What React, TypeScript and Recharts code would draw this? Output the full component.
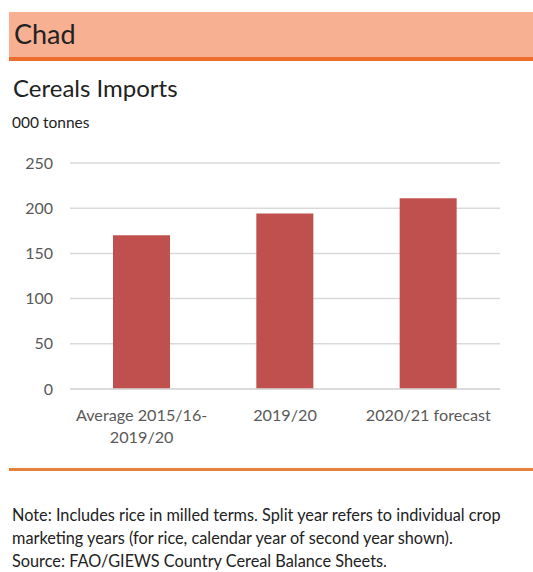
import { BarChart, Bar, XAxis, YAxis, CartesianGrid } from "recharts";

const categories = ["Average 2015/16-\n2019/20", "2019/20", "2020/21 forecast"];
const imports = [170, 194, 211];
const yTicks = [0, 50, 100, 150, 200, 250];

const data = categories.map((name, i) => ({ name, value: imports[i] }));

const FONT = "Lato, 'Open Sans', sans-serif";

function CategoryTick(props: any) {
  const { x, y, payload } = props;
  const lines = String(payload.value).split("\n");
  return (
    <text x={x} y={y} textAnchor="middle" fill="#595959" fontSize={16.2} fontFamily={FONT}>
      {lines.map((l, i) => (
        <tspan key={i} x={x} dy={i === 0 ? 24 : 22}>
          {l}
        </tspan>
      ))}
    </text>
  );
}

export default function App() {
  return (
    <div
      style={{
        position: "absolute",
        left: 0,
        top: 0,
        width: 533,
        height: 572,
        background: "#fff",
        fontFamily: FONT,
        overflow: "hidden",
      }}
    >
      <div
        style={{
          position: "absolute",
          left: 9,
          top: 12,
          width: 524,
          height: 45,
          background: "#F7B092",
          borderBottom: "4px solid #EE6D2C",
        }}
      />
      <div style={{ position: "absolute", left: 14, top: 16, fontSize: 27, color: "#222", lineHeight: "36px" }}>
        Chad
      </div>
      <div style={{ position: "absolute", left: 13, top: 73, fontSize: 24, color: "#222", lineHeight: "30px" }}>
        Cereals Imports
      </div>
      <div style={{ position: "absolute", left: 12, top: 113, fontSize: 15.5, color: "#222", lineHeight: "18px" }}>
        000 tonnes
      </div>
      <div style={{ position: "absolute", left: 0, top: 140 }}>
        <BarChart
          width={533}
          height={310}
          data={data}
          margin={{ top: 23, right: 33, left: 0, bottom: 0 }}
          barCategoryGap="30%"
        >
          <CartesianGrid vertical={false} stroke="#D9D9D9" strokeWidth={1.5} />
          <XAxis
            dataKey="name"
            height={61}
            interval={0}
            axisLine={{ stroke: "#D9D9D9", strokeWidth: 1.5 }}
            tickLine={false}
            tick={<CategoryTick />}
          />
          <YAxis
            width={70}
            domain={[0, 250]}
            ticks={yTicks}
            axisLine={false}
            tickLine={false}
            tickMargin={11}
            tick={{ fill: "#595959", fontSize: 16, fontFamily: FONT }}
          />
          <Bar dataKey="value" fill="#C0504D" isAnimationActive={false} />
        </BarChart>
      </div>
      <div
        style={{
          position: "absolute",
          left: 9,
          top: 468,
          width: 524,
          height: 3,
          background: "#E8803C",
        }}
      />
      <div
        style={{
          position: "absolute",
          left: 12,
          top: 503,
          width: 521,
          fontSize: 16.3,
          color: "#222",
          lineHeight: "23px",
          whiteSpace: "nowrap",
        }}
      >
        <div>Note: Includes rice in milled terms. Split year refers to individual crop</div>
        <div>marketing years (for rice, calendar year of second year shown).</div>
        <div>Source: FAO/GIEWS Country Cereal Balance Sheets.</div>
      </div>
    </div>
  );
}
